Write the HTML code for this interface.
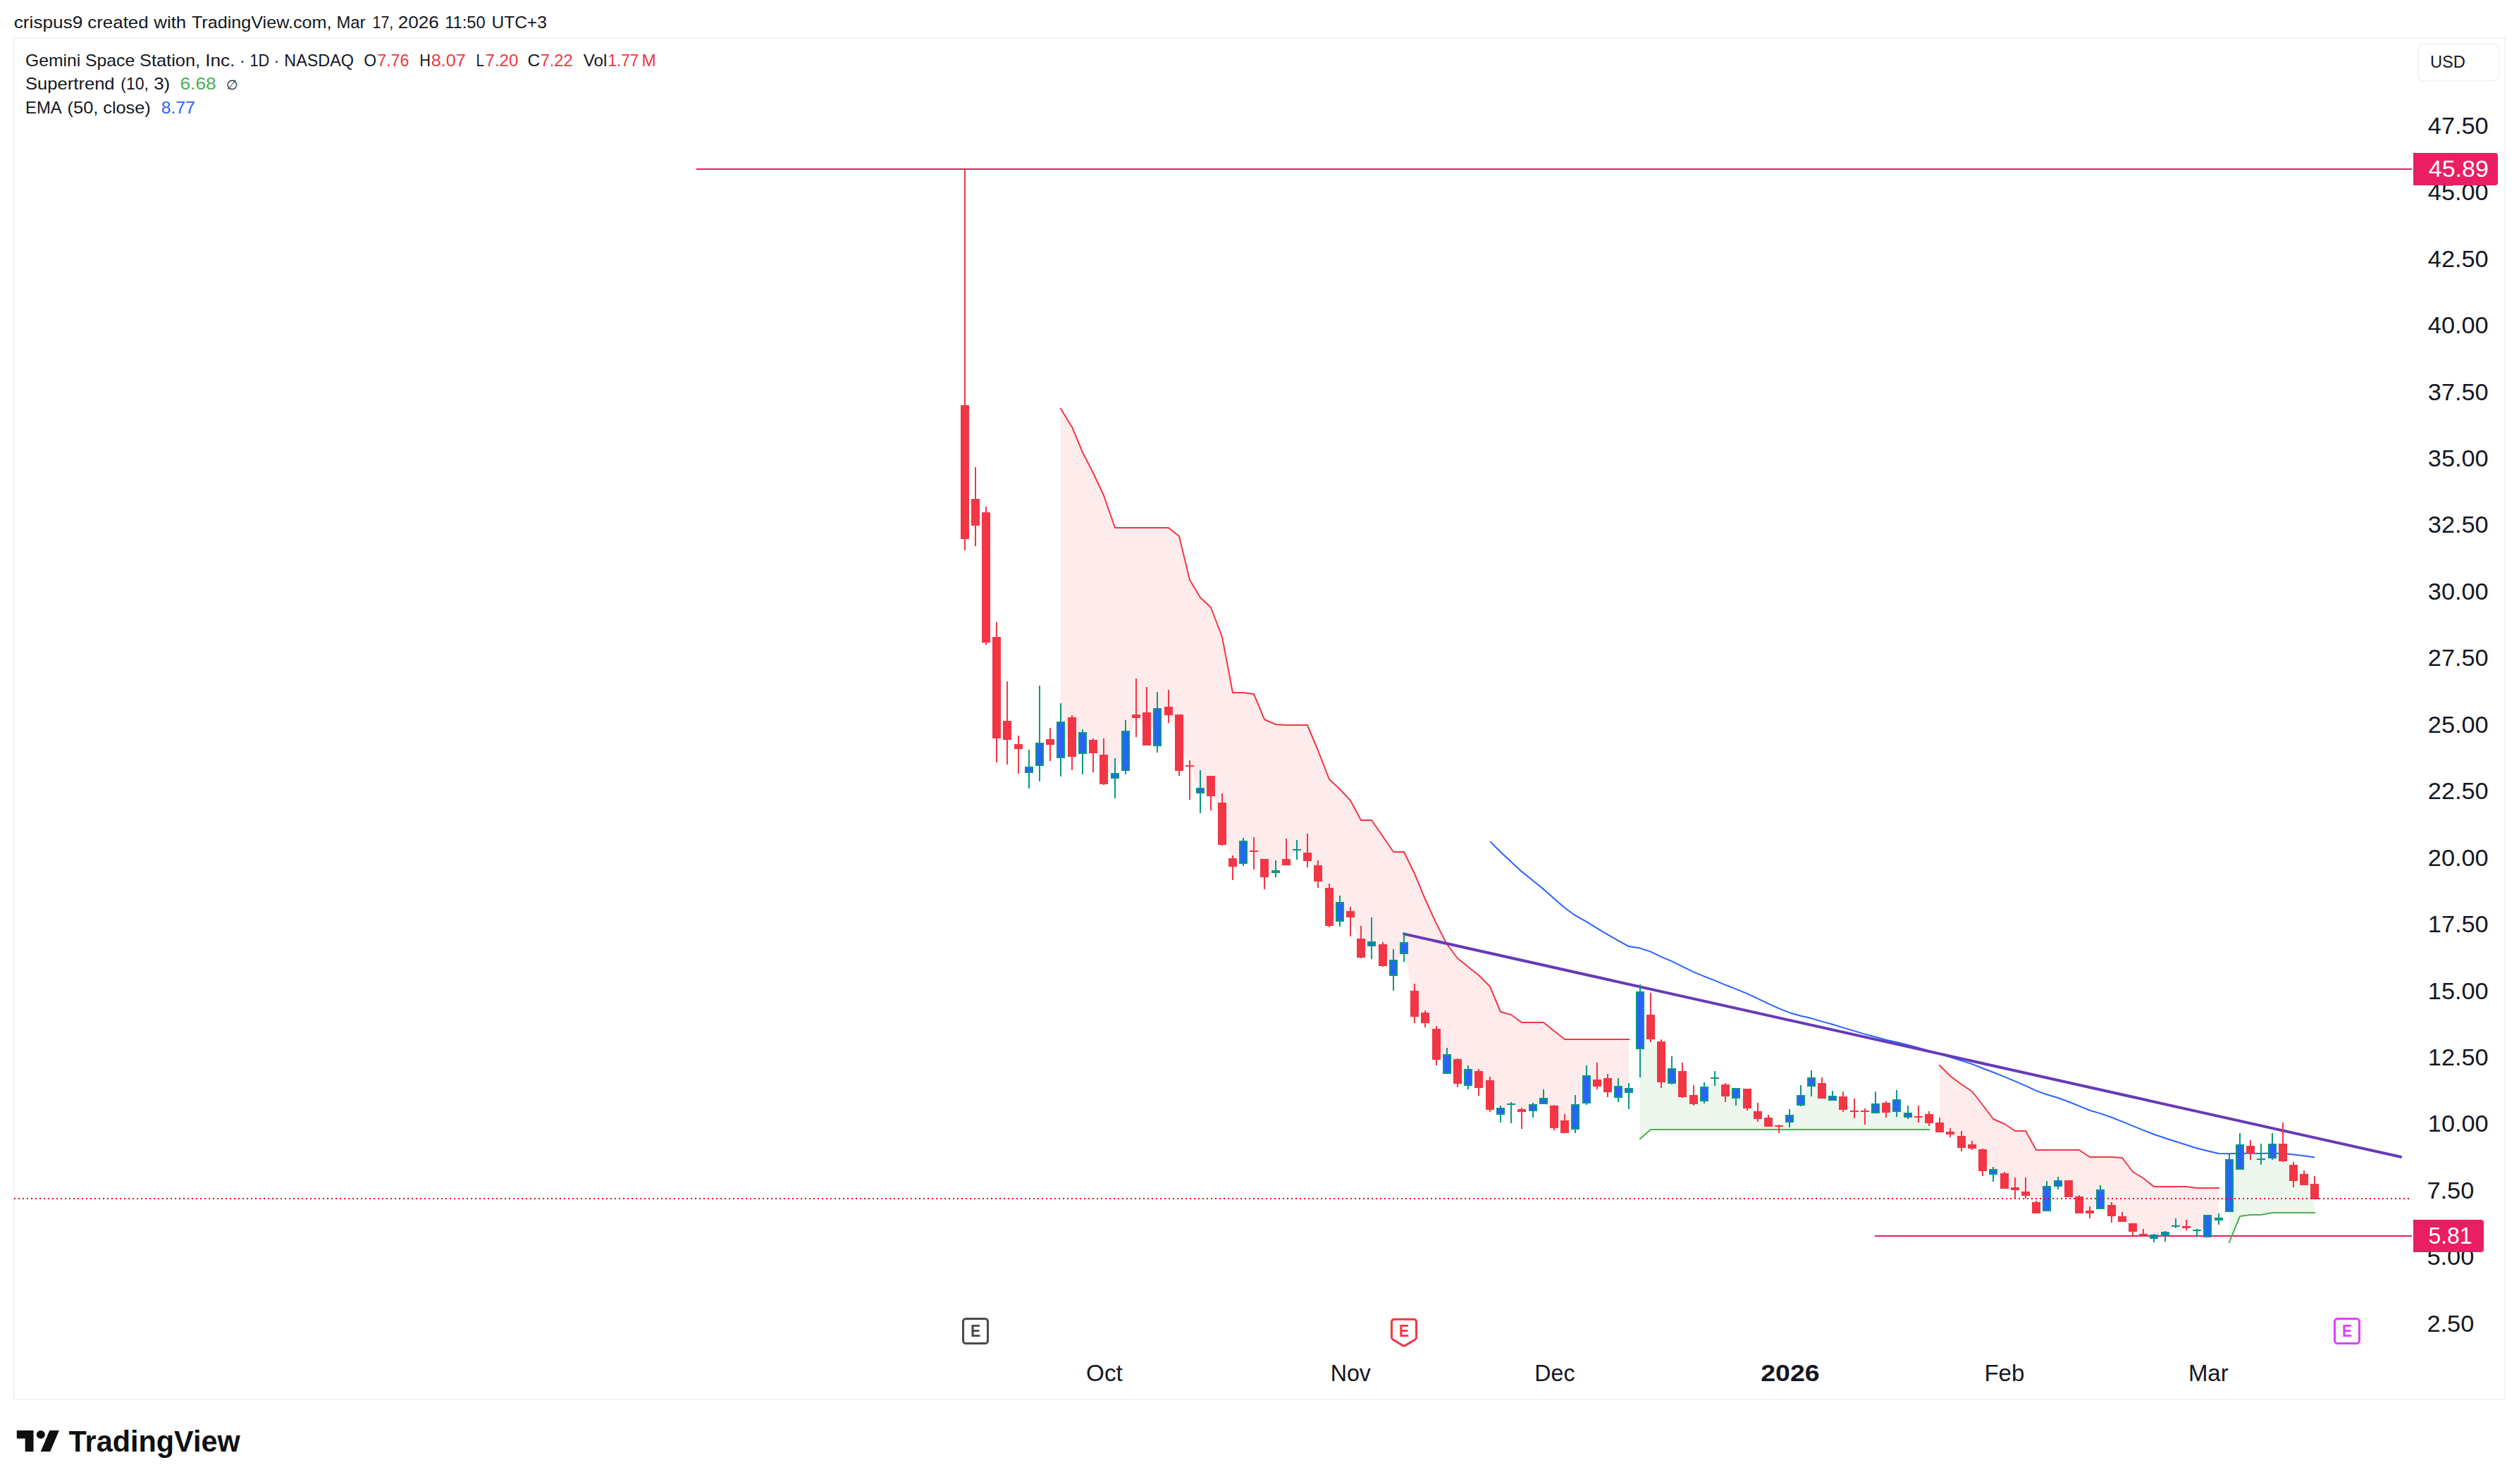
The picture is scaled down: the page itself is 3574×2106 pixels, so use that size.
<!DOCTYPE html>
<html lang="en"><head><meta charset="utf-8"><title>GEMI chart</title>
<style>html,body{margin:0;padding:0;background:#fff}svg{display:block}text{font-family:"Liberation Sans",sans-serif}</style>
</head><body>
<svg width="3574" height="2106" viewBox="0 0 3574 2106">
<rect width="3574" height="2106" fill="#fff"/>
<rect x="20" y="54" width="3534" height="1932" fill="none" stroke="#f3f3f3" stroke-width="2" shape-rendering="crispEdges"/>
<g id="fills">
<path d="M1505.0,579.5 L1521.0,606.5 L1536.0,642.5 L1551.0,671.0 L1566.0,703.0 L1582.0,748.6 L1597.0,748.6 L1612.0,748.6 L1627.0,748.6 L1642.0,748.6 L1658.0,748.6 L1673.0,760.7 L1688.0,823.4 L1703.0,848.0 L1718.0,862.5 L1734.0,903.5 L1749.0,982.7 L1764.0,982.7 L1779.0,985.0 L1794.0,1021.4 L1810.0,1028.5 L1825.0,1028.6 L1840.0,1028.6 L1855.0,1028.6 L1870.0,1065.3 L1886.0,1105.7 L1901.0,1119.6 L1916.0,1136.4 L1931.0,1164.5 L1946.0,1164.5 L1962.0,1187.2 L1977.0,1209.2 L1992.0,1209.2 L2007.0,1239.9 L2022.0,1275.5 L2038.0,1311.0 L2053.0,1340.0 L2068.0,1359.5 L2083.0,1371.5 L2098.0,1383.8 L2114.0,1400.0 L2129.0,1436.5 L2144.0,1439.7 L2159.0,1450.7 L2175.0,1450.7 L2190.0,1450.7 L2205.0,1463.0 L2220.0,1475.2 L2235.0,1475.2 L2251.0,1475.2 L2266.0,1475.2 L2281.0,1475.2 L2296.0,1475.2 L2311.0,1475.2 L2311.0,1547.4 L2296.0,1549.4 L2281.0,1540.0 L2266.0,1536.9 L2251.0,1546.0 L2235.0,1585.2 L2220.0,1598.8 L2205.0,1584.8 L2190.0,1562.4 L2175.0,1572.0 L2159.0,1576.0 L2144.0,1567.0 L2129.0,1576.9 L2114.0,1553.9 L2098.0,1531.9 L2083.0,1528.7 L2068.0,1520.4 L2053.0,1510.0 L2038.0,1481.8 L2022.0,1444.7 L2007.0,1424.3 L1992.0,1345.8 L1977.0,1373.5 L1962.0,1355.3 L1946.0,1339.5 L1931.0,1345.2 L1916.0,1297.8 L1901.0,1294.0 L1886.0,1286.9 L1870.0,1239.3 L1855.0,1216.0 L1840.0,1205.5 L1825.0,1223.2 L1810.0,1236.8 L1794.0,1231.8 L1779.0,1208.0 L1764.0,1209.2 L1749.0,1224.3 L1734.0,1169.1 L1718.0,1115.3 L1703.0,1121.9 L1688.0,1087.0 L1673.0,1053.9 L1658.0,1009.0 L1642.0,1032.1 L1627.0,1034.5 L1612.0,1016.5 L1597.0,1065.3 L1582.0,1101.0 L1566.0,1092.0 L1551.0,1059.3 L1536.0,1054.5 L1521.0,1045.8 L1505.0,1050.0Z" fill="#feebec"/>
<path d="M2327.0,1616.0 L2342.0,1603.3 L2357.0,1603.3 L2372.0,1603.3 L2387.0,1603.3 L2403.0,1603.3 L2418.0,1603.3 L2433.0,1603.3 L2448.0,1603.3 L2463.0,1603.3 L2479.0,1603.3 L2494.0,1603.3 L2509.0,1603.3 L2524.0,1603.3 L2539.0,1603.3 L2555.0,1603.3 L2570.0,1603.3 L2585.0,1603.3 L2600.0,1603.3 L2615.0,1603.3 L2631.0,1603.3 L2646.0,1603.3 L2661.0,1603.3 L2676.0,1603.3 L2691.0,1603.3 L2707.0,1603.3 L2722.0,1603.3 L2737.0,1603.3 L2737.0,1587.6 L2722.0,1584.8 L2707.0,1582.5 L2691.0,1568.9 L2676.0,1571.8 L2661.0,1572.8 L2646.0,1577.0 L2631.0,1577.0 L2615.0,1565.4 L2600.0,1558.2 L2585.0,1548.0 L2570.0,1535.4 L2555.0,1561.5 L2539.0,1587.3 L2524.0,1598.0 L2509.0,1592.6 L2494.0,1582.5 L2479.0,1558.9 L2463.0,1551.4 L2448.0,1547.3 L2433.0,1530.0 L2418.0,1552.5 L2403.0,1560.5 L2387.0,1538.5 L2372.0,1527.0 L2357.0,1506.8 L2342.0,1457.4 L2327.0,1448.1Z" fill="#edf7ee"/>
<path d="M2752.0,1511.8 L2767.0,1526.7 L2783.0,1538.6 L2798.0,1549.2 L2813.0,1567.5 L2828.0,1588.0 L2844.0,1595.3 L2859.0,1605.2 L2874.0,1605.2 L2889.0,1632.0 L2904.0,1632.0 L2920.0,1632.0 L2935.0,1632.0 L2950.0,1632.0 L2965.0,1641.6 L2980.0,1641.6 L2996.0,1642.0 L3011.0,1643.0 L3026.0,1662.6 L3041.0,1672.0 L3056.0,1683.7 L3072.0,1683.7 L3087.0,1683.7 L3102.0,1683.7 L3117.0,1685.9 L3132.0,1685.9 L3148.0,1685.9 L3148.0,1730.1 L3132.0,1740.0 L3117.0,1746.0 L3102.0,1741.3 L3087.0,1739.8 L3072.0,1750.9 L3056.0,1754.9 L3041.0,1752.9 L3026.0,1741.9 L3011.0,1730.0 L2996.0,1718.1 L2980.0,1701.9 L2965.0,1719.9 L2950.0,1710.0 L2935.0,1687.0 L2920.0,1679.5 L2904.0,1700.9 L2889.0,1714.1 L2874.0,1693.8 L2859.0,1686.8 L2844.0,1676.0 L2828.0,1662.9 L2813.0,1646.5 L2798.0,1627.0 L2783.0,1620.5 L2767.0,1607.9 L2752.0,1599.9Z" fill="#feebec"/>
<path d="M3163.0,1762.8 L3178.0,1726.0 L3193.0,1724.4 L3208.0,1724.2 L3224.0,1721.0 L3239.0,1721.0 L3254.0,1721.0 L3269.0,1721.0 L3284.0,1721.0 L3284.0,1690.8 L3269.0,1673.8 L3254.0,1664.3 L3239.0,1635.4 L3224.0,1633.3 L3208.0,1645.0 L3193.0,1631.5 L3178.0,1642.0 L3163.0,1682.5Z" fill="#edf7ee"/>
</g>
<rect x="988" y="239" width="2434" height="2" fill="#e91e63"/>
<rect x="2660" y="1753" width="762" height="2" fill="#e91e63"/>
<g id="st">
<path d="M1505,580 L1521,606 L1536,642 L1551,671 L1566,703 L1582,749 L1597,749 L1612,749 L1627,749 L1642,749 L1658,749 L1673,761 L1688,823 L1703,848 L1718,862 L1734,904 L1749,983 L1764,983 L1779,985 L1794,1021 L1810,1028 L1825,1029 L1840,1029 L1855,1029 L1870,1065 L1886,1106 L1901,1120 L1916,1136 L1931,1164 L1946,1164 L1962,1187 L1977,1209 L1992,1209 L2007,1240 L2022,1276 L2038,1311 L2053,1340 L2068,1360 L2083,1372 L2098,1384 L2114,1400 L2129,1436 L2144,1440 L2159,1451 L2175,1451 L2190,1451 L2205,1463 L2220,1475 L2235,1475 L2251,1475 L2266,1475 L2281,1475 L2296,1475 L2311,1475" fill="none" stroke="#f23645" stroke-width="2" stroke-linejoin="round" stroke-linecap="square"/>
<path d="M2327,1616 L2342,1603 L2357,1603 L2372,1603 L2387,1603 L2403,1603 L2418,1603 L2433,1603 L2448,1603 L2463,1603 L2479,1603 L2494,1603 L2509,1603 L2524,1603 L2539,1603 L2555,1603 L2570,1603 L2585,1603 L2600,1603 L2615,1603 L2631,1603 L2646,1603 L2661,1603 L2676,1603 L2691,1603 L2707,1603 L2722,1603 L2737,1603" fill="none" stroke="#4caf50" stroke-width="2" stroke-linejoin="round" stroke-linecap="square"/>
<path d="M2752,1512 L2767,1527 L2783,1539 L2798,1549 L2813,1568 L2828,1588 L2844,1595 L2859,1605 L2874,1605 L2889,1632 L2904,1632 L2920,1632 L2935,1632 L2950,1632 L2965,1642 L2980,1642 L2996,1642 L3011,1643 L3026,1663 L3041,1672 L3056,1684 L3072,1684 L3087,1684 L3102,1684 L3117,1686 L3132,1686 L3148,1686" fill="none" stroke="#f23645" stroke-width="2" stroke-linejoin="round" stroke-linecap="square"/>
<path d="M3163,1763 L3178,1726 L3193,1724 L3208,1724 L3224,1721 L3239,1721 L3254,1721 L3269,1721 L3284,1721" fill="none" stroke="#4caf50" stroke-width="2" stroke-linejoin="round" stroke-linecap="square"/>
</g>
<path d="M2114,1194.1 L2129,1209.0 L2144,1223.0 L2159,1236.9 L2175,1249.8 L2190,1261.9 L2205,1275.2 L2220,1288.3 L2235,1299.2 L2251,1308.1 L2266,1317.3 L2281,1326.4 L2296,1334.8 L2311,1343.1 L2327,1345.6 L2342,1350.6 L2357,1357.9 L2372,1364.1 L2387,1371.7 L2403,1379.3 L2418,1385.7 L2433,1391.4 L2448,1397.8 L2463,1403.6 L2479,1410.2 L2494,1417.2 L2509,1424.3 L2524,1431.1 L2539,1437.1 L2555,1441.7 L2570,1445.1 L2585,1449.6 L2600,1453.7 L2615,1458.4 L2631,1463.1 L2646,1467.6 L2661,1471.5 L2676,1475.7 L2691,1479.0 L2707,1483.0 L2722,1487.0 L2737,1491.2 L2752,1495.7 L2767,1500.2 L2783,1505.2 L2798,1510.1 L2813,1516.0 L2828,1521.7 L2844,1528.1 L2859,1534.4 L2874,1540.8 L2889,1547.9 L2904,1553.2 L2920,1558.0 L2935,1563.5 L2950,1569.7 L2965,1575.7 L2980,1580.1 L2996,1585.8 L3011,1591.6 L3026,1597.8 L3041,1603.9 L3056,1609.7 L3072,1615.2 L3087,1620.0 L3102,1624.8 L3117,1629.5 L3132,1633.3 L3148,1637.0 L3163,1637.3 L3178,1636.8 L3193,1636.8 L3208,1637.1 L3224,1636.5 L3239,1637.0 L3254,1638.5 L3269,1640.2 L3284,1642.6" fill="none" stroke="#2962ff" stroke-width="2" stroke-linejoin="round"/>
<line x1="1992" y1="1325.4" x2="3406" y2="1641.8" stroke="#673ab7" stroke-width="4" stroke-linecap="round"/>
<g id="candles" shape-rendering="crispEdges">
<rect x="1368" y="240" width="2" height="541" fill="#f23645"/>
<rect x="1363" y="575" width="12" height="190" fill="#f23645"/>
<rect x="1383" y="663" width="2" height="112" fill="#f23645"/>
<rect x="1378" y="708" width="12" height="38" fill="#f23645"/>
<rect x="1398" y="719" width="2" height="196" fill="#f23645"/>
<rect x="1393" y="727" width="12" height="185" fill="#f23645"/>
<rect x="1413" y="883" width="2" height="199" fill="#f23645"/>
<rect x="1408" y="904" width="12" height="144" fill="#f23645"/>
<rect x="1428" y="967" width="2" height="118" fill="#f23645"/>
<rect x="1423" y="1023" width="12" height="27" fill="#f23645"/>
<rect x="1444" y="1044" width="2" height="54" fill="#f23645"/>
<rect x="1439" y="1056" width="12" height="7" fill="#f23645"/>
<rect x="1459" y="1064" width="2" height="55" fill="#089981"/>
<rect x="1454" y="1088" width="12" height="9" fill="#089981"/>
<rect x="1456" y="1090" width="8" height="5" fill="#2962ff"/>
<rect x="1474" y="973" width="2" height="136" fill="#089981"/>
<rect x="1469" y="1054" width="12" height="33" fill="#089981"/>
<rect x="1471" y="1056" width="8" height="29" fill="#2962ff"/>
<rect x="1489" y="1033" width="2" height="47" fill="#f23645"/>
<rect x="1484" y="1049" width="12" height="8" fill="#f23645"/>
<rect x="1504" y="998" width="2" height="104" fill="#089981"/>
<rect x="1499" y="1024" width="12" height="52" fill="#089981"/>
<rect x="1501" y="1026" width="8" height="48" fill="#2962ff"/>
<rect x="1520" y="1015" width="2" height="78" fill="#f23645"/>
<rect x="1515" y="1018" width="12" height="56" fill="#f23645"/>
<rect x="1535" y="1035" width="2" height="64" fill="#089981"/>
<rect x="1530" y="1039" width="12" height="31" fill="#089981"/>
<rect x="1532" y="1041" width="8" height="27" fill="#2962ff"/>
<rect x="1550" y="1048" width="2" height="48" fill="#f23645"/>
<rect x="1545" y="1050" width="12" height="19" fill="#f23645"/>
<rect x="1565" y="1048" width="2" height="66" fill="#f23645"/>
<rect x="1560" y="1071" width="12" height="42" fill="#f23645"/>
<rect x="1581" y="1076" width="2" height="57" fill="#089981"/>
<rect x="1576" y="1097" width="12" height="8" fill="#089981"/>
<rect x="1578" y="1099" width="8" height="4" fill="#2962ff"/>
<rect x="1596" y="1022" width="2" height="77" fill="#089981"/>
<rect x="1591" y="1037" width="12" height="57" fill="#089981"/>
<rect x="1593" y="1039" width="8" height="53" fill="#2962ff"/>
<rect x="1611" y="963" width="2" height="83" fill="#f23645"/>
<rect x="1606" y="1014" width="12" height="5" fill="#f23645"/>
<rect x="1626" y="975" width="2" height="83" fill="#f23645"/>
<rect x="1621" y="1011" width="12" height="47" fill="#f23645"/>
<rect x="1641" y="982" width="2" height="86" fill="#089981"/>
<rect x="1636" y="1005" width="12" height="54" fill="#089981"/>
<rect x="1638" y="1007" width="8" height="50" fill="#2962ff"/>
<rect x="1657" y="979" width="2" height="47" fill="#f23645"/>
<rect x="1652" y="1003" width="12" height="12" fill="#f23645"/>
<rect x="1672" y="1014" width="2" height="87" fill="#f23645"/>
<rect x="1667" y="1014" width="12" height="80" fill="#f23645"/>
<rect x="1687" y="1079" width="2" height="56" fill="#f23645"/>
<rect x="1682" y="1086" width="12" height="2" fill="#f23645"/>
<rect x="1702" y="1093" width="2" height="61" fill="#089981"/>
<rect x="1697" y="1118" width="12" height="8" fill="#089981"/>
<rect x="1699" y="1120" width="8" height="4" fill="#2962ff"/>
<rect x="1717" y="1101" width="2" height="49" fill="#f23645"/>
<rect x="1712" y="1101" width="12" height="29" fill="#f23645"/>
<rect x="1733" y="1126" width="2" height="74" fill="#f23645"/>
<rect x="1728" y="1139" width="12" height="60" fill="#f23645"/>
<rect x="1748" y="1214" width="2" height="35" fill="#f23645"/>
<rect x="1743" y="1218" width="12" height="12" fill="#f23645"/>
<rect x="1763" y="1189" width="2" height="40" fill="#089981"/>
<rect x="1758" y="1193" width="12" height="33" fill="#089981"/>
<rect x="1760" y="1195" width="8" height="29" fill="#2962ff"/>
<rect x="1778" y="1188" width="2" height="46" fill="#f23645"/>
<rect x="1773" y="1207" width="12" height="2" fill="#f23645"/>
<rect x="1793" y="1219" width="2" height="43" fill="#f23645"/>
<rect x="1788" y="1219" width="12" height="26" fill="#f23645"/>
<rect x="1809" y="1221" width="2" height="24" fill="#089981"/>
<rect x="1804" y="1235" width="12" height="4" fill="#089981"/>
<rect x="1824" y="1190" width="2" height="38" fill="#f23645"/>
<rect x="1819" y="1219" width="12" height="9" fill="#f23645"/>
<rect x="1839" y="1192" width="2" height="28" fill="#089981"/>
<rect x="1834" y="1205" width="12" height="2" fill="#089981"/>
<rect x="1854" y="1183" width="2" height="48" fill="#f23645"/>
<rect x="1849" y="1210" width="12" height="12" fill="#f23645"/>
<rect x="1869" y="1221" width="2" height="39" fill="#f23645"/>
<rect x="1864" y="1228" width="12" height="23" fill="#f23645"/>
<rect x="1885" y="1254" width="2" height="62" fill="#f23645"/>
<rect x="1880" y="1260" width="12" height="54" fill="#f23645"/>
<rect x="1900" y="1271" width="2" height="44" fill="#089981"/>
<rect x="1895" y="1280" width="12" height="28" fill="#089981"/>
<rect x="1897" y="1282" width="8" height="24" fill="#2962ff"/>
<rect x="1915" y="1287" width="2" height="42" fill="#f23645"/>
<rect x="1910" y="1293" width="12" height="9" fill="#f23645"/>
<rect x="1930" y="1314" width="2" height="46" fill="#f23645"/>
<rect x="1925" y="1332" width="12" height="27" fill="#f23645"/>
<rect x="1945" y="1302" width="2" height="59" fill="#089981"/>
<rect x="1940" y="1336" width="12" height="7" fill="#089981"/>
<rect x="1942" y="1338" width="8" height="3" fill="#2962ff"/>
<rect x="1961" y="1337" width="2" height="35" fill="#f23645"/>
<rect x="1956" y="1340" width="12" height="31" fill="#f23645"/>
<rect x="1976" y="1347" width="2" height="59" fill="#089981"/>
<rect x="1971" y="1362" width="12" height="23" fill="#089981"/>
<rect x="1973" y="1364" width="8" height="19" fill="#2962ff"/>
<rect x="1991" y="1323" width="2" height="42" fill="#089981"/>
<rect x="1986" y="1337" width="12" height="17" fill="#089981"/>
<rect x="1988" y="1339" width="8" height="13" fill="#2962ff"/>
<rect x="2006" y="1396" width="2" height="56" fill="#f23645"/>
<rect x="2001" y="1406" width="12" height="37" fill="#f23645"/>
<rect x="2021" y="1434" width="2" height="24" fill="#f23645"/>
<rect x="2016" y="1437" width="12" height="15" fill="#f23645"/>
<rect x="2037" y="1456" width="2" height="56" fill="#f23645"/>
<rect x="2032" y="1460" width="12" height="44" fill="#f23645"/>
<rect x="2052" y="1487" width="2" height="37" fill="#089981"/>
<rect x="2047" y="1496" width="12" height="28" fill="#089981"/>
<rect x="2049" y="1498" width="8" height="24" fill="#2962ff"/>
<rect x="2067" y="1502" width="2" height="41" fill="#f23645"/>
<rect x="2062" y="1503" width="12" height="35" fill="#f23645"/>
<rect x="2082" y="1512" width="2" height="34" fill="#089981"/>
<rect x="2077" y="1517" width="12" height="24" fill="#089981"/>
<rect x="2079" y="1519" width="8" height="20" fill="#2962ff"/>
<rect x="2097" y="1517" width="2" height="38" fill="#f23645"/>
<rect x="2092" y="1520" width="12" height="24" fill="#f23645"/>
<rect x="2113" y="1528" width="2" height="50" fill="#f23645"/>
<rect x="2108" y="1533" width="12" height="42" fill="#f23645"/>
<rect x="2128" y="1569" width="2" height="24" fill="#089981"/>
<rect x="2123" y="1572" width="12" height="10" fill="#089981"/>
<rect x="2125" y="1574" width="8" height="6" fill="#2962ff"/>
<rect x="2143" y="1564" width="2" height="30" fill="#089981"/>
<rect x="2138" y="1566" width="12" height="2" fill="#089981"/>
<rect x="2158" y="1572" width="2" height="30" fill="#f23645"/>
<rect x="2153" y="1574" width="12" height="4" fill="#f23645"/>
<rect x="2174" y="1565" width="2" height="21" fill="#089981"/>
<rect x="2169" y="1567" width="12" height="10" fill="#089981"/>
<rect x="2171" y="1569" width="8" height="6" fill="#2962ff"/>
<rect x="2189" y="1546" width="2" height="21" fill="#089981"/>
<rect x="2184" y="1558" width="12" height="9" fill="#089981"/>
<rect x="2186" y="1560" width="8" height="5" fill="#2962ff"/>
<rect x="2204" y="1568" width="2" height="36" fill="#f23645"/>
<rect x="2199" y="1569" width="12" height="32" fill="#f23645"/>
<rect x="2219" y="1581" width="2" height="27" fill="#f23645"/>
<rect x="2214" y="1590" width="12" height="18" fill="#f23645"/>
<rect x="2234" y="1554" width="2" height="54" fill="#089981"/>
<rect x="2229" y="1567" width="12" height="36" fill="#089981"/>
<rect x="2231" y="1569" width="8" height="32" fill="#2962ff"/>
<rect x="2250" y="1512" width="2" height="56" fill="#089981"/>
<rect x="2245" y="1526" width="12" height="40" fill="#089981"/>
<rect x="2247" y="1528" width="8" height="36" fill="#2962ff"/>
<rect x="2265" y="1508" width="2" height="38" fill="#f23645"/>
<rect x="2260" y="1532" width="12" height="10" fill="#f23645"/>
<rect x="2280" y="1524" width="2" height="33" fill="#f23645"/>
<rect x="2275" y="1530" width="12" height="20" fill="#f23645"/>
<rect x="2295" y="1530" width="2" height="34" fill="#089981"/>
<rect x="2290" y="1541" width="12" height="17" fill="#089981"/>
<rect x="2292" y="1543" width="8" height="13" fill="#2962ff"/>
<rect x="2310" y="1537" width="2" height="37" fill="#089981"/>
<rect x="2305" y="1544" width="12" height="7" fill="#089981"/>
<rect x="2307" y="1546" width="8" height="3" fill="#2962ff"/>
<rect x="2326" y="1397" width="2" height="132" fill="#089981"/>
<rect x="2321" y="1407" width="12" height="82" fill="#089981"/>
<rect x="2323" y="1409" width="8" height="78" fill="#2962ff"/>
<rect x="2341" y="1409" width="2" height="70" fill="#f23645"/>
<rect x="2336" y="1440" width="12" height="35" fill="#f23645"/>
<rect x="2356" y="1475" width="2" height="69" fill="#f23645"/>
<rect x="2351" y="1478" width="12" height="58" fill="#f23645"/>
<rect x="2371" y="1499" width="2" height="40" fill="#089981"/>
<rect x="2366" y="1516" width="12" height="22" fill="#089981"/>
<rect x="2368" y="1518" width="8" height="18" fill="#2962ff"/>
<rect x="2386" y="1508" width="2" height="50" fill="#f23645"/>
<rect x="2381" y="1520" width="12" height="37" fill="#f23645"/>
<rect x="2402" y="1540" width="2" height="29" fill="#f23645"/>
<rect x="2397" y="1554" width="12" height="13" fill="#f23645"/>
<rect x="2417" y="1536" width="2" height="30" fill="#089981"/>
<rect x="2412" y="1542" width="12" height="21" fill="#089981"/>
<rect x="2414" y="1544" width="8" height="17" fill="#2962ff"/>
<rect x="2432" y="1520" width="2" height="21" fill="#089981"/>
<rect x="2427" y="1529" width="12" height="2" fill="#089981"/>
<rect x="2447" y="1537" width="2" height="27" fill="#f23645"/>
<rect x="2442" y="1539" width="12" height="17" fill="#f23645"/>
<rect x="2462" y="1544" width="2" height="25" fill="#089981"/>
<rect x="2457" y="1544" width="12" height="15" fill="#089981"/>
<rect x="2459" y="1546" width="8" height="11" fill="#2962ff"/>
<rect x="2478" y="1545" width="2" height="31" fill="#f23645"/>
<rect x="2473" y="1545" width="12" height="28" fill="#f23645"/>
<rect x="2493" y="1565" width="2" height="27" fill="#f23645"/>
<rect x="2488" y="1577" width="12" height="11" fill="#f23645"/>
<rect x="2508" y="1582" width="2" height="17" fill="#f23645"/>
<rect x="2503" y="1586" width="12" height="13" fill="#f23645"/>
<rect x="2523" y="1596" width="2" height="12" fill="#f23645"/>
<rect x="2518" y="1597" width="12" height="2" fill="#f23645"/>
<rect x="2538" y="1574" width="2" height="26" fill="#089981"/>
<rect x="2533" y="1582" width="12" height="11" fill="#089981"/>
<rect x="2535" y="1584" width="8" height="7" fill="#2962ff"/>
<rect x="2554" y="1540" width="2" height="30" fill="#089981"/>
<rect x="2549" y="1554" width="12" height="15" fill="#089981"/>
<rect x="2551" y="1556" width="8" height="11" fill="#2962ff"/>
<rect x="2569" y="1519" width="2" height="37" fill="#089981"/>
<rect x="2564" y="1529" width="12" height="13" fill="#089981"/>
<rect x="2566" y="1531" width="8" height="9" fill="#2962ff"/>
<rect x="2584" y="1529" width="2" height="30" fill="#f23645"/>
<rect x="2579" y="1537" width="12" height="22" fill="#f23645"/>
<rect x="2599" y="1548" width="2" height="14" fill="#089981"/>
<rect x="2594" y="1555" width="12" height="7" fill="#089981"/>
<rect x="2596" y="1557" width="8" height="3" fill="#2962ff"/>
<rect x="2614" y="1549" width="2" height="29" fill="#f23645"/>
<rect x="2609" y="1556" width="12" height="19" fill="#f23645"/>
<rect x="2630" y="1559" width="2" height="28" fill="#f23645"/>
<rect x="2625" y="1576" width="12" height="2" fill="#f23645"/>
<rect x="2645" y="1573" width="2" height="23" fill="#f23645"/>
<rect x="2640" y="1576" width="12" height="2" fill="#f23645"/>
<rect x="2660" y="1549" width="2" height="31" fill="#089981"/>
<rect x="2655" y="1566" width="12" height="14" fill="#089981"/>
<rect x="2657" y="1568" width="8" height="10" fill="#2962ff"/>
<rect x="2675" y="1563" width="2" height="23" fill="#f23645"/>
<rect x="2670" y="1565" width="12" height="14" fill="#f23645"/>
<rect x="2690" y="1547" width="2" height="38" fill="#089981"/>
<rect x="2685" y="1560" width="12" height="18" fill="#089981"/>
<rect x="2687" y="1562" width="8" height="14" fill="#2962ff"/>
<rect x="2706" y="1569" width="2" height="19" fill="#089981"/>
<rect x="2701" y="1579" width="12" height="7" fill="#089981"/>
<rect x="2703" y="1581" width="8" height="3" fill="#2962ff"/>
<rect x="2721" y="1569" width="2" height="24" fill="#f23645"/>
<rect x="2716" y="1584" width="12" height="2" fill="#f23645"/>
<rect x="2736" y="1577" width="2" height="21" fill="#f23645"/>
<rect x="2731" y="1581" width="12" height="13" fill="#f23645"/>
<rect x="2751" y="1586" width="2" height="21" fill="#f23645"/>
<rect x="2746" y="1593" width="12" height="14" fill="#f23645"/>
<rect x="2766" y="1601" width="2" height="13" fill="#f23645"/>
<rect x="2761" y="1606" width="12" height="4" fill="#f23645"/>
<rect x="2782" y="1605" width="2" height="29" fill="#f23645"/>
<rect x="2777" y="1612" width="12" height="17" fill="#f23645"/>
<rect x="2797" y="1619" width="2" height="13" fill="#f23645"/>
<rect x="2792" y="1624" width="12" height="6" fill="#f23645"/>
<rect x="2812" y="1630" width="2" height="39" fill="#f23645"/>
<rect x="2807" y="1631" width="12" height="31" fill="#f23645"/>
<rect x="2827" y="1656" width="2" height="21" fill="#089981"/>
<rect x="2822" y="1659" width="12" height="8" fill="#089981"/>
<rect x="2824" y="1661" width="8" height="4" fill="#2962ff"/>
<rect x="2843" y="1663" width="2" height="24" fill="#f23645"/>
<rect x="2838" y="1665" width="12" height="22" fill="#f23645"/>
<rect x="2858" y="1671" width="2" height="31" fill="#f23645"/>
<rect x="2853" y="1685" width="12" height="4" fill="#f23645"/>
<rect x="2873" y="1671" width="2" height="30" fill="#f23645"/>
<rect x="2868" y="1691" width="12" height="6" fill="#f23645"/>
<rect x="2888" y="1704" width="2" height="18" fill="#f23645"/>
<rect x="2883" y="1706" width="12" height="16" fill="#f23645"/>
<rect x="2903" y="1676" width="2" height="43" fill="#089981"/>
<rect x="2898" y="1683" width="12" height="36" fill="#089981"/>
<rect x="2900" y="1685" width="8" height="32" fill="#2962ff"/>
<rect x="2919" y="1670" width="2" height="18" fill="#089981"/>
<rect x="2914" y="1675" width="12" height="9" fill="#089981"/>
<rect x="2916" y="1677" width="8" height="5" fill="#2962ff"/>
<rect x="2934" y="1675" width="2" height="24" fill="#f23645"/>
<rect x="2929" y="1675" width="12" height="24" fill="#f23645"/>
<rect x="2949" y="1696" width="2" height="26" fill="#f23645"/>
<rect x="2944" y="1698" width="12" height="24" fill="#f23645"/>
<rect x="2964" y="1712" width="2" height="17" fill="#f23645"/>
<rect x="2959" y="1718" width="12" height="4" fill="#f23645"/>
<rect x="2979" y="1682" width="2" height="34" fill="#089981"/>
<rect x="2974" y="1688" width="12" height="28" fill="#089981"/>
<rect x="2976" y="1690" width="8" height="24" fill="#2962ff"/>
<rect x="2995" y="1706" width="2" height="29" fill="#f23645"/>
<rect x="2990" y="1710" width="12" height="16" fill="#f23645"/>
<rect x="3010" y="1720" width="2" height="14" fill="#f23645"/>
<rect x="3005" y="1726" width="12" height="8" fill="#f23645"/>
<rect x="3025" y="1736" width="2" height="17" fill="#f23645"/>
<rect x="3020" y="1736" width="12" height="12" fill="#f23645"/>
<rect x="3040" y="1744" width="2" height="10" fill="#f23645"/>
<rect x="3035" y="1751" width="12" height="3" fill="#f23645"/>
<rect x="3055" y="1751" width="2" height="12" fill="#089981"/>
<rect x="3050" y="1752" width="12" height="6" fill="#089981"/>
<rect x="3052" y="1754" width="8" height="2" fill="#2962ff"/>
<rect x="3071" y="1747" width="2" height="15" fill="#089981"/>
<rect x="3066" y="1748" width="12" height="6" fill="#089981"/>
<rect x="3068" y="1750" width="8" height="2" fill="#2962ff"/>
<rect x="3086" y="1729" width="2" height="14" fill="#089981"/>
<rect x="3081" y="1739" width="12" height="2" fill="#089981"/>
<rect x="3101" y="1731" width="2" height="15" fill="#f23645"/>
<rect x="3096" y="1740" width="12" height="3" fill="#f23645"/>
<rect x="3116" y="1744" width="2" height="12" fill="#089981"/>
<rect x="3111" y="1745" width="12" height="2" fill="#089981"/>
<rect x="3131" y="1724" width="2" height="32" fill="#089981"/>
<rect x="3126" y="1724" width="12" height="32" fill="#089981"/>
<rect x="3128" y="1726" width="8" height="28" fill="#2962ff"/>
<rect x="3147" y="1722" width="2" height="16" fill="#089981"/>
<rect x="3142" y="1728" width="12" height="4" fill="#089981"/>
<rect x="3162" y="1638" width="2" height="82" fill="#089981"/>
<rect x="3157" y="1645" width="12" height="75" fill="#089981"/>
<rect x="3159" y="1647" width="8" height="71" fill="#2962ff"/>
<rect x="3177" y="1608" width="2" height="52" fill="#089981"/>
<rect x="3172" y="1624" width="12" height="36" fill="#089981"/>
<rect x="3174" y="1626" width="8" height="32" fill="#2962ff"/>
<rect x="3192" y="1618" width="2" height="28" fill="#f23645"/>
<rect x="3187" y="1626" width="12" height="11" fill="#f23645"/>
<rect x="3207" y="1623" width="2" height="30" fill="#089981"/>
<rect x="3202" y="1644" width="12" height="2" fill="#089981"/>
<rect x="3223" y="1608" width="2" height="38" fill="#089981"/>
<rect x="3218" y="1623" width="12" height="21" fill="#089981"/>
<rect x="3220" y="1625" width="8" height="17" fill="#2962ff"/>
<rect x="3238" y="1593" width="2" height="56" fill="#f23645"/>
<rect x="3233" y="1623" width="12" height="25" fill="#f23645"/>
<rect x="3253" y="1649" width="2" height="36" fill="#f23645"/>
<rect x="3248" y="1653" width="12" height="23" fill="#f23645"/>
<rect x="3268" y="1661" width="2" height="21" fill="#f23645"/>
<rect x="3263" y="1666" width="12" height="16" fill="#f23645"/>
<rect x="3283" y="1669" width="2" height="33" fill="#f23645"/>
<rect x="3278" y="1680" width="12" height="22" fill="#f23645"/>
</g>
<line x1="20" y1="1701" x2="3418" y2="1701" stroke="#f0001c" stroke-width="2" stroke-dasharray="2 4" shape-rendering="crispEdges"/>
<text x="3444.85" y="189.7" font-size="32.5" fill="#131722" font-weight="normal" text-anchor="start" textLength="85.67" lengthAdjust="spacingAndGlyphs">47.50</text>
<text x="3444.85" y="284.1" font-size="32.5" fill="#131722" font-weight="normal" text-anchor="start" textLength="85.67" lengthAdjust="spacingAndGlyphs">45.00</text>
<text x="3444.85" y="378.6" font-size="32.5" fill="#131722" font-weight="normal" text-anchor="start" textLength="85.67" lengthAdjust="spacingAndGlyphs">42.50</text>
<text x="3444.85" y="473.0" font-size="32.5" fill="#131722" font-weight="normal" text-anchor="start" textLength="85.67" lengthAdjust="spacingAndGlyphs">40.00</text>
<text x="3444.85" y="567.5" font-size="32.5" fill="#131722" font-weight="normal" text-anchor="start" textLength="85.67" lengthAdjust="spacingAndGlyphs">37.50</text>
<text x="3444.85" y="661.9" font-size="32.5" fill="#131722" font-weight="normal" text-anchor="start" textLength="85.67" lengthAdjust="spacingAndGlyphs">35.00</text>
<text x="3444.85" y="756.4" font-size="32.5" fill="#131722" font-weight="normal" text-anchor="start" textLength="85.67" lengthAdjust="spacingAndGlyphs">32.50</text>
<text x="3444.85" y="850.8" font-size="32.5" fill="#131722" font-weight="normal" text-anchor="start" textLength="85.67" lengthAdjust="spacingAndGlyphs">30.00</text>
<text x="3444.85" y="945.3" font-size="32.5" fill="#131722" font-weight="normal" text-anchor="start" textLength="85.67" lengthAdjust="spacingAndGlyphs">27.50</text>
<text x="3444.85" y="1039.7" font-size="32.5" fill="#131722" font-weight="normal" text-anchor="start" textLength="85.67" lengthAdjust="spacingAndGlyphs">25.00</text>
<text x="3444.85" y="1134.1" font-size="32.5" fill="#131722" font-weight="normal" text-anchor="start" textLength="85.67" lengthAdjust="spacingAndGlyphs">22.50</text>
<text x="3444.85" y="1228.6" font-size="32.5" fill="#131722" font-weight="normal" text-anchor="start" textLength="85.67" lengthAdjust="spacingAndGlyphs">20.00</text>
<text x="3444.85" y="1323.0" font-size="32.5" fill="#131722" font-weight="normal" text-anchor="start" textLength="85.67" lengthAdjust="spacingAndGlyphs">17.50</text>
<text x="3444.85" y="1417.5" font-size="32.5" fill="#131722" font-weight="normal" text-anchor="start" textLength="85.67" lengthAdjust="spacingAndGlyphs">15.00</text>
<text x="3444.85" y="1511.9" font-size="32.5" fill="#131722" font-weight="normal" text-anchor="start" textLength="85.67" lengthAdjust="spacingAndGlyphs">12.50</text>
<text x="3444.85" y="1606.4" font-size="32.5" fill="#131722" font-weight="normal" text-anchor="start" textLength="85.67" lengthAdjust="spacingAndGlyphs">10.00</text>
<text x="3443.55" y="1700.8" font-size="32.5" fill="#131722" font-weight="normal" text-anchor="start" textLength="66.69" lengthAdjust="spacingAndGlyphs">7.50</text>
<text x="3443.55" y="1795.3" font-size="32.5" fill="#131722" font-weight="normal" text-anchor="start" textLength="66.69" lengthAdjust="spacingAndGlyphs">5.00</text>
<text x="3443.55" y="1889.7" font-size="32.5" fill="#131722" font-weight="normal" text-anchor="start" textLength="66.69" lengthAdjust="spacingAndGlyphs">2.50</text>
<path d="M3424,217 H3540 a4,4 0 0 1 4,4 V259 a4,4 0 0 1 -4,4 H3424 Z" fill="#e91e63"/>
<path d="M3424,1731 H3520 a4,4 0 0 1 4,4 V1773 a4,4 0 0 1 -4,4 H3424 Z" fill="#e91e63"/>
<text x="3445.8" y="251.0" font-size="32.5" fill="#fff" font-weight="normal" text-anchor="start" textLength="85.11" lengthAdjust="spacingAndGlyphs">45.89</text>
<text x="3445.52" y="1765.0" font-size="32.5" fill="#fff" font-weight="normal" text-anchor="start" textLength="62.02" lengthAdjust="spacingAndGlyphs">5.81</text>
<rect x="3430.5" y="62.5" width="115" height="52" rx="8" fill="#fff" stroke="#f0f0f1" stroke-width="1.5"/>
<text x="3447.9" y="95.7" font-size="23.6" fill="#131722" font-weight="normal" text-anchor="start" textLength="49.93" lengthAdjust="spacingAndGlyphs">USD</text>
<text x="1566.9" y="1960" font-size="32.5" fill="#131722" font-weight="normal" text-anchor="middle" textLength="51.6" lengthAdjust="spacingAndGlyphs">Oct</text>
<text x="1916.3" y="1960" font-size="32.5" fill="#131722" font-weight="normal" text-anchor="middle" textLength="57.2" lengthAdjust="spacingAndGlyphs">Nov</text>
<text x="2205.9" y="1960" font-size="32.5" fill="#131722" font-weight="normal" text-anchor="middle" textLength="57.2" lengthAdjust="spacingAndGlyphs">Dec</text>
<text x="2540" y="1960" font-size="32.5" fill="#131722" font-weight="bold" text-anchor="middle" textLength="83.5" lengthAdjust="spacingAndGlyphs">2026</text>
<text x="2843.9" y="1960" font-size="32.5" fill="#131722" font-weight="normal" text-anchor="middle" textLength="57" lengthAdjust="spacingAndGlyphs">Feb</text>
<text x="3133.3" y="1960" font-size="32.5" fill="#131722" font-weight="normal" text-anchor="middle" textLength="56.8" lengthAdjust="spacingAndGlyphs">Mar</text>
<rect x="1366.5" y="1871.5" width="35" height="35" rx="4" fill="#fff" stroke="#4a4a4a" stroke-width="3"/>
<text x="1384" y="1897" font-size="23.5" fill="#4a4a4a" font-weight="bold" text-anchor="middle" textLength="14.2" lengthAdjust="spacingAndGlyphs">E</text>
<path d="M1978,1872.3 H2006 a3.5,3.5 0 0 1 3.5,3.5 V1898 a3.5,3.5 0 0 1 -1.7,3 L1993.5,1909.6 a3,3 0 0 1 -3,0 L1976.2,1901 a3.5,3.5 0 0 1 -1.7,-3 V1875.8 a3.5,3.5 0 0 1 3.5,-3.5 Z" fill="#fff" stroke="#f23645" stroke-width="3" stroke-linejoin="round"/>
<text x="1992" y="1897" font-size="23.5" fill="#f23645" font-weight="bold" text-anchor="middle" textLength="14.2" lengthAdjust="spacingAndGlyphs">E</text>
<rect x="3312.5" y="1871.5" width="35" height="35" rx="4" fill="#fff" stroke="#e040fb" stroke-width="3"/>
<text x="3330" y="1897" font-size="23.5" fill="#e040fb" font-weight="bold" text-anchor="middle" textLength="14.2" lengthAdjust="spacingAndGlyphs">E</text>
<text y="40.3" font-size="24.5" fill="#131722"><tspan x="19.73" textLength="97.69" lengthAdjust="spacingAndGlyphs">crispus9</tspan> <tspan x="124.34" textLength="86.27" lengthAdjust="spacingAndGlyphs">created</tspan> <tspan x="218.3" textLength="45.91" lengthAdjust="spacingAndGlyphs">with</tspan> <tspan x="271.9" textLength="198.61" lengthAdjust="spacingAndGlyphs">TradingView.com,</tspan> <tspan x="477.45" textLength="41.04" lengthAdjust="spacingAndGlyphs">Mar</tspan> <tspan x="528.53" textLength="29.67" lengthAdjust="spacingAndGlyphs">17,</tspan> <tspan x="564.84" textLength="58.01" lengthAdjust="spacingAndGlyphs">2026</tspan> <tspan x="631.23" textLength="57.45" lengthAdjust="spacingAndGlyphs">11:50</tspan> <tspan x="697.5" textLength="78.3" lengthAdjust="spacingAndGlyphs">UTC+3</tspan></text>
<text y="93.9" font-size="23.6" fill="#131722"><tspan x="36.05" textLength="78.22" lengthAdjust="spacingAndGlyphs">Gemini</tspan> <tspan x="121.05" textLength="70.1" lengthAdjust="spacingAndGlyphs">Space</tspan> <tspan x="198.02" textLength="86.04" lengthAdjust="spacingAndGlyphs">Station,</tspan> <tspan x="291.18" textLength="42.17" lengthAdjust="spacingAndGlyphs">Inc.</tspan> <tspan x="339.67">·</tspan> <tspan x="354.38" textLength="27.8" lengthAdjust="spacingAndGlyphs">1D</tspan> <tspan x="388.47">·</tspan> <tspan x="403.31" textLength="98.62" lengthAdjust="spacingAndGlyphs">NASDAQ</tspan> <tspan x="516.23" textLength="17.82" lengthAdjust="spacingAndGlyphs">O</tspan><tspan x="535.22" textLength="45.19" lengthAdjust="spacingAndGlyphs" fill="#f23645">7.76</tspan> <tspan x="595.28" textLength="15.68" lengthAdjust="spacingAndGlyphs">H</tspan><tspan x="611.73" textLength="48.95" lengthAdjust="spacingAndGlyphs" fill="#f23645">8.07</tspan> <tspan x="675.43" textLength="11.38" lengthAdjust="spacingAndGlyphs">L</tspan><tspan x="688.58" textLength="46.76" lengthAdjust="spacingAndGlyphs" fill="#f23645">7.20</tspan> <tspan x="748.56" textLength="17.73" lengthAdjust="spacingAndGlyphs">C</tspan><tspan x="766.7" textLength="45.82" lengthAdjust="spacingAndGlyphs" fill="#f23645">7.22</tspan> <tspan x="827.7" textLength="33.63" lengthAdjust="spacingAndGlyphs">Vol</tspan><tspan x="862.45" textLength="43.73" lengthAdjust="spacingAndGlyphs" fill="#f23645">1.77</tspan> <tspan x="910.57" textLength="20.23" lengthAdjust="spacingAndGlyphs" fill="#f23645">M</tspan></text>
<text y="127.1" font-size="23.6" fill="#131722"><tspan x="36.02" textLength="126.6" lengthAdjust="spacingAndGlyphs">Supertrend</tspan> <tspan x="171.32" textLength="39.69" lengthAdjust="spacingAndGlyphs">(10,</tspan> <tspan x="218.2" textLength="23.08" lengthAdjust="spacingAndGlyphs">3)</tspan> <tspan x="255.48" textLength="51.24" lengthAdjust="spacingAndGlyphs" fill="#4caf50">6.68</tspan> <tspan x="321" y="127.2" font-size="19">∅</tspan></text>
<text y="161.2" font-size="23.6" fill="#131722"><tspan x="36.12" textLength="50.32" lengthAdjust="spacingAndGlyphs">EMA</tspan> <tspan x="95.62" textLength="43.76" lengthAdjust="spacingAndGlyphs">(50,</tspan> <tspan x="146.23" textLength="67.58" lengthAdjust="spacingAndGlyphs">close)</tspan> <tspan x="228.65" textLength="48.22" lengthAdjust="spacingAndGlyphs" fill="#2962ff">8.77</tspan></text>
<g transform="translate(23.8,2023.3) scale(1.694,1.663)" fill="#0f0f0f"><path d="M14 22H7V11H0V4h14v18zM28 22h-8l7.5-18h8L28 22z"/><circle cx="20.1" cy="7.6" r="3.55"/></g>
<text x="97.6" y="2059.6" font-size="42" fill="#0f0f0f" font-weight="bold" text-anchor="start" textLength="243" lengthAdjust="spacingAndGlyphs">TradingView</text>
</svg>
</body></html>
